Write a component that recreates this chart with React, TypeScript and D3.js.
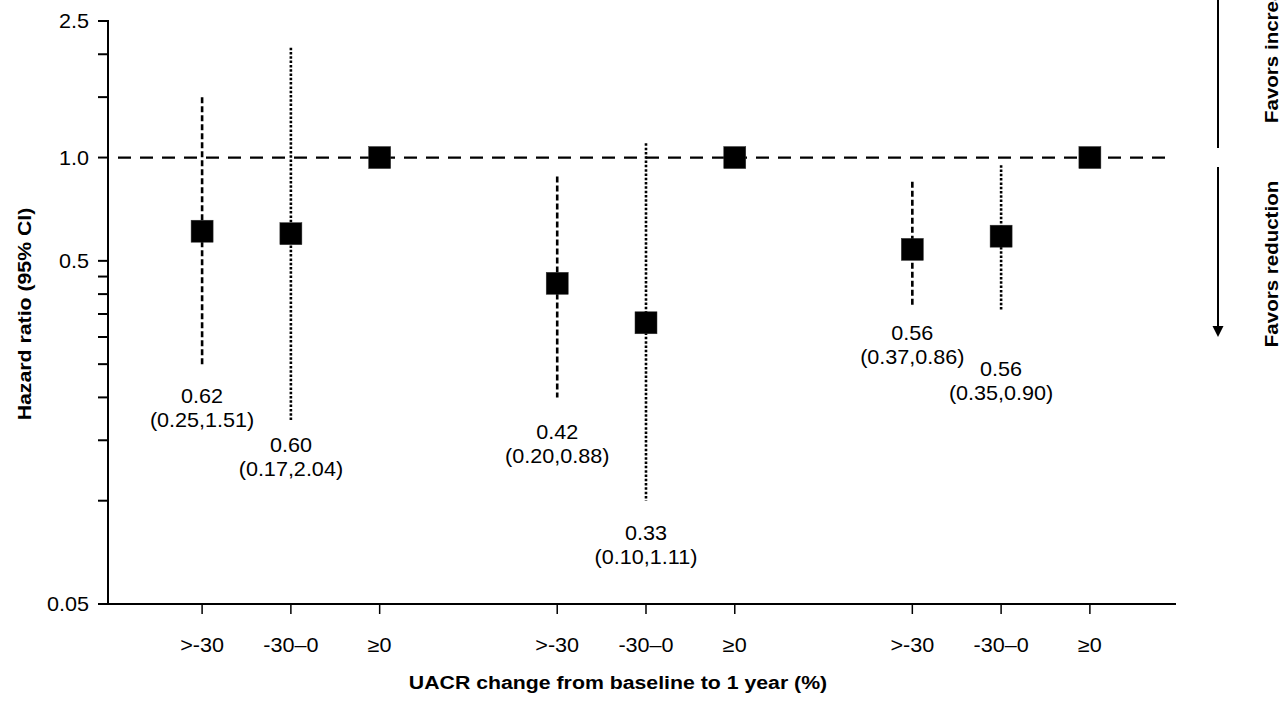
import React from "react";
import * as d3 from "d3";

// ---- data ----
const categories = [">-30", "-30–0", "≥0", ">-30", "-30–0", "≥0", ">-30", "-30–0", "≥0"];
const slots = [0, 1, 2, 4, 5, 6, 8, 9, 10];
const hazardRatio = [0.61, 0.6, 1.0, 0.43, 0.33, 1.0, 0.54, 0.59, 1.0];
const ciLow: (number | null)[] = [0.25, 0.17, null, 0.2, 0.1, null, 0.37, 0.36, null];
const ciHigh: (number | null)[] = [1.5, 2.09, null, 0.88, 1.1, null, 0.85, 0.95, null];
const ciStyle: (string | null)[] = ["dashed", "dotted", null, "dashed", "dotted", null, "dashed", "dotted", null];
const labelHr: (string | null)[] = ["0.62", "0.60", null, "0.42", "0.33", null, "0.56", "0.56", null];
const labelCi: (string | null)[] = ["(0.25,1.51)", "(0.17,2.04)", null, "(0.20,0.88)", "(0.10,1.11)", null, "(0.37,0.86)", "(0.35,0.90)", null];
const majorTicks = [2.5, 1.0, 0.5, 0.05];
const minorTicks = [2.0, 1.5, 0.45, 0.4, 0.35, 0.3, 0.25, 0.2, 0.15, 0.1];
const referenceValue = 1.0;

// ---- layout (pixels, not data) ----
const labelGap = [32, 23, 0, 35, 32, 0, 27, 59, 0];

const W = 1287;
const H = 709;
const FONT = "'Liberation Sans', Arial, Helvetica, sans-serif";

function T({ x, y, rotate = 0, anchor = "middle", size = 20, bold = false, sx = 1.08, children }: any) {
  return (
    <g transform={`translate(${x},${y}) rotate(${rotate}) scale(${sx},1)`}>
      <text
        x={0}
        y={0}
        textAnchor={anchor}
        fontFamily={FONT}
        fontSize={size}
        fontWeight={bold ? "bold" : "normal"}
        fill="#000"
      >
        {children}
      </text>
    </g>
  );
}

export default function App() {
  const x = d3.scaleLinear().domain([-1.06, 10.97]).range([108, 1176]);
  const y = d3.scaleLog().domain([0.05, 2.5]).range([604, 21]);
  const x0 = x.range()[0];
  const x1 = x.range()[1];
  const yBottom = y.range()[0];
  const yTop = y.range()[1];
  const ms = 22;

  return (
    <svg width={W} height={H} style={{ position: "absolute", left: 0, top: 0, background: "#fff" }}>
      <rect x={0} y={0} width={W} height={H} fill="#fff" />
      {/* y axis */}
      <line x1={x0} x2={x0} y1={yTop - 1} y2={yBottom + 1} stroke="#000" strokeWidth={2} />
      {majorTicks.concat(minorTicks).map((t, i) => (
        <line key={"yt" + i} x1={x0 - 10} x2={x0} y1={y(t)} y2={y(t)} stroke="#000" strokeWidth={2} />
      ))}
      {majorTicks.map((t, i) => (
        <T key={"yl" + i} x={89} y={y(t) + 7} anchor="end">
          {t === 0.05 ? "0.05" : t.toFixed(1)}
        </T>
      ))}
      {/* x axis */}
      <line x1={x0 - 1} x2={x1} y1={yBottom} y2={yBottom} stroke="#000" strokeWidth={2} />
      {slots.map((s, i) => (
        <line key={"xt" + i} x1={x(s)} x2={x(s)} y1={yBottom} y2={yBottom + 10} stroke="#000" strokeWidth={1.5} />
      ))}
      {categories.map((c, i) => (
        <T key={"xl" + i} x={x(slots[i])} y={652}>
          {c}
        </T>
      ))}
      {/* reference line */}
      <line
        x1={x0 + 10}
        x2={1165}
        y1={y(referenceValue)}
        y2={y(referenceValue)}
        stroke="#000"
        strokeWidth={2.2}
        strokeDasharray="13 9"
      />
      {/* CIs */}
      {slots.map((s, i) =>
        ciLow[i] != null && ciHigh[i] != null ? (
          <line
            key={"ci" + i}
            x1={x(s)}
            x2={x(s)}
            y1={y(ciHigh[i] as number)}
            y2={y(ciLow[i] as number)}
            stroke="#000"
            strokeWidth={ciStyle[i] === "dashed" ? 2.6 : 2.6}
            strokeDasharray={ciStyle[i] === "dashed" ? "6 3" : "2.5 1.8"}
          />
        ) : null
      )}
      {/* markers */}
      {slots.map((s, i) => (
        <rect
          key={"m" + i}
          x={x(s) - ms / 2}
          y={y(hazardRatio[i]) - ms / 2}
          width={ms}
          height={ms}
          fill="#000"
          stroke="#333"
          strokeWidth={0.5}
        />
      ))}
      {/* value labels */}
      {slots.map((s, i) =>
        labelHr[i] != null ? (
          <g key={"lab" + i}>
            <T x={x(s)} y={y(ciLow[i] as number) + labelGap[i] + 7}>
              {labelHr[i]}
            </T>
            <T x={x(s)} y={y(ciLow[i] as number) + labelGap[i] + 31}>
              {labelCi[i]}
            </T>
          </g>
        ) : null
      )}
      {/* axis titles */}
      <T x={618} y={689} bold size={19} sx={1.12}>
        UACR change from baseline to 1 year (%)
      </T>
      <T x={31} y={314} rotate={-90} bold size={19} sx={1.12}>
        Hazard ratio (95% CI)
      </T>
      {/* right annotation */}
      <line x1={1218} x2={1218} y1={-2} y2={148} stroke="#000" strokeWidth={2} />
      <line x1={1218} x2={1218} y1={167} y2={328} stroke="#000" strokeWidth={2} />
      <path d="M1212.5,326 L1223.5,326 L1218,337 Z" fill="#000" />
      <T x={1278} y={123} rotate={-90} anchor="start" bold size={19} sx={1.08}>
        Favors increase
      </T>
      <T x={1278} y={264} rotate={-90} bold size={19} sx={1.08}>
        Favors reduction
      </T>
    </svg>
  );
}
